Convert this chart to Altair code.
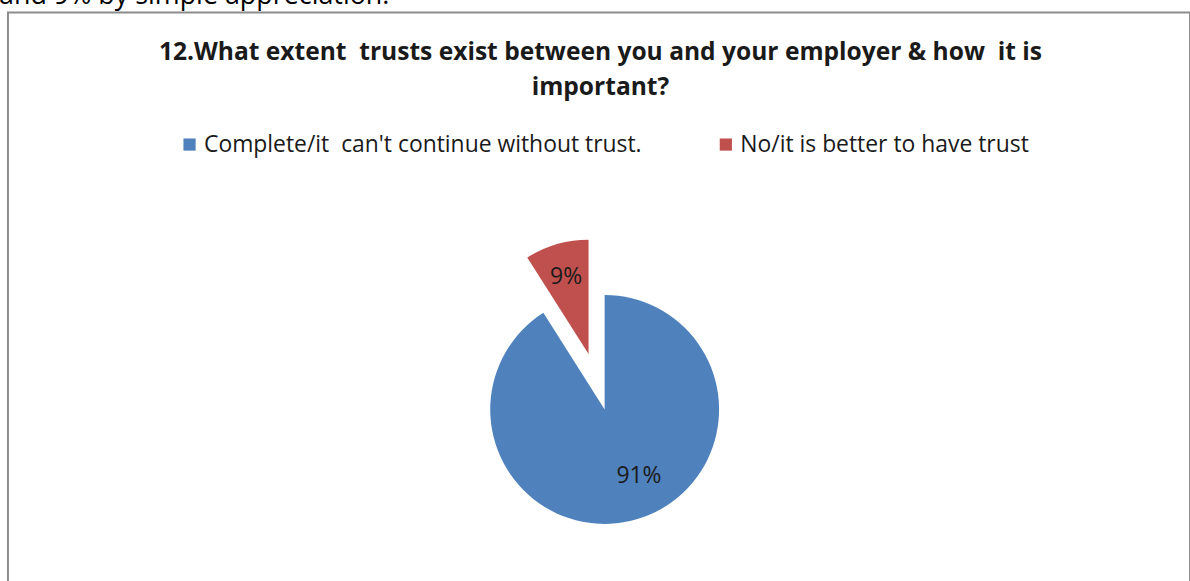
import math
import altair as alt
import pandas as pd

# ---- data ----
categories = ["Complete/it\u00a0\u00a0can't continue without trust.", "No/it is better to have trust"]
values = [91, 9]
labels = ["91%", "9%"]
order = [0, 1]
colors = ["#4F81BD", "#C0504D"]

title_lines = ["12.What extent\u00a0\u00a0trusts exist between you and your employer & how\u00a0\u00a0it is",
               "important?"]
above_text = "and 9% by simple appreciation."

df = pd.DataFrame({"category": categories, "value": values, "label": labels, "order": order})

# ---- layout / style ----
FONT = "Open Sans"
CX, CY = 599.7, 399.0   # pie centre in view coordinates
R = 115
EXPLODE = 58

base = alt.Chart(df).transform_window(
    cum="sum(value)", sort=[alt.SortField("order")], frame=[None, 0]
).transform_joinaggregate(
    total="sum(value)"
).transform_calculate(
    start="(datum.cum - datum.value) / datum.total * 2 * PI",
    end="datum.cum / datum.total * 2 * PI",
    mid="(datum.cum - datum.value / 2) / datum.total * 2 * PI",
    ex=f"datum.order === 1 ? {EXPLODE} : 0",
).transform_calculate(
    cx=f"{CX} + datum.ex * sin(datum.mid)",
    cy=f"{CY} - datum.ex * cos(datum.mid)",
    la="datum.order === 1 ? datum.mid : datum.mid - 0.195",
    lr="datum.order === 1 ? 81 : 75",
).transform_calculate(
    lx="datum.cx + datum.lr * sin(datum.la)",
    ly="datum.cy - datum.lr * cos(datum.la)",
)

arcs = base.mark_arc(outerRadius=R, strokeWidth=0).encode(
    theta=alt.Theta("start:Q", scale=None, stack=None),
    theta2="end:Q",
    x=alt.X("cx:Q", scale=None),
    y=alt.Y("cy:Q", scale=None),
    color=alt.Color(
        "category:N",
        scale=alt.Scale(domain=categories, range=colors),
        legend=alt.Legend(
            orient="none", legendX=171, legendY=121, direction="horizontal",
            title=None, symbolType="square", symbolSize=150, symbolStrokeWidth=0,
            labelFontSize=23, labelFont=FONT, labelColor="#1a1a1a", labelOffset=3,
            columnPadding=72, labelLimit=1000, padding=0,
        ),
    ),
    order=alt.Order("order:Q"),
)

pie_labels = base.mark_text(font=FONT, fontSize=23, color="#1a1a1a",
                            align="center", baseline="middle").encode(
    x=alt.X("lx:Q", scale=None),
    y=alt.Y("ly:Q", scale=None),
    text="label:N",
)

title = alt.Chart(pd.DataFrame({"a": [0]})).mark_text(
    text=title_lines, font=FONT, fontSize=24.7, fontWeight="bold", color="#1a1a1a",
    align="center", baseline="alphabetic", lineHeight=36,
).encode(x=alt.value(595.5), y=alt.value(47.3))

top_text = alt.Chart(pd.DataFrame({"a": [0]})).mark_text(
    text=above_text, font=FONT, fontSize=27, color="#000000",
    align="left", baseline="alphabetic",
).encode(x=alt.value(-9), y=alt.value(-9))

chart = alt.layer(arcs, pie_labels, title, top_text).properties(
    width=1188, height=600,
    autosize=alt.AutoSizeParams(type="none"),
    padding={"left": 8, "top": 11, "right": 0, "bottom": 0},
    background="white",
).configure_view(stroke="#8c8c8c", strokeWidth=2)

chart.save("out.html", embed_options={"renderer": "svg", "actions": False})
